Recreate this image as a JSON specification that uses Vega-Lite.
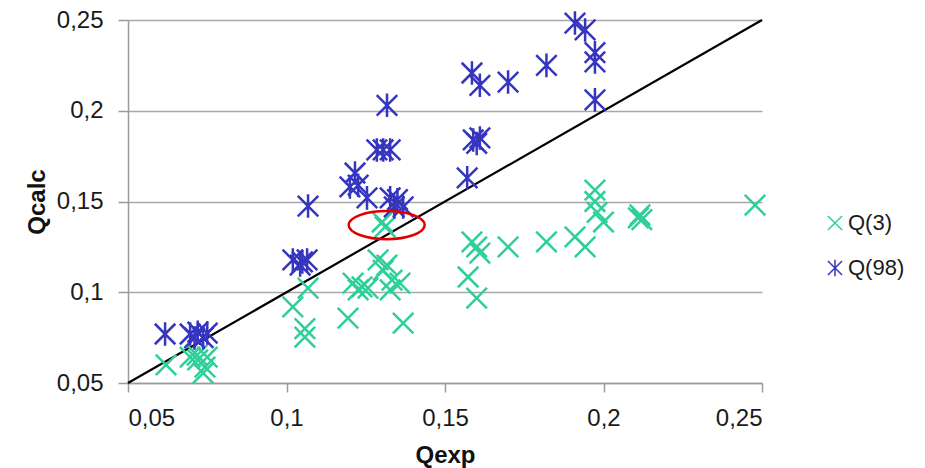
{
  "$schema": "https://vega.github.io/schema/vega-lite/v6.json",
  "width": 634,
  "height": 363,
  "autosize": {"type": "none"},
  "padding": {"left": 128, "top": 20, "right": 163, "bottom": 85},
  "background": "white",
  "config": {
    "view": {"stroke": null},
    "font": "Liberation Sans",
    "axis": {
      "labelFont": "Liberation Sans",
      "labelFontSize": 24,
      "labelColor": "#1a1a1a",
      "titleFont": "Liberation Sans",
      "titleFontSize": 24,
      "titleFontWeight": "bold",
      "titleColor": "#111111",
      "domainColor": "#9a9a9a",
      "tickColor": "#9a9a9a",
      "gridColor": "#a8a8a8",
      "domainWidth": 1.5,
      "tickWidth": 1.5,
      "gridWidth": 1.5
    }
  },
  "datasets": {
    "pts": [
      {"Qexp": 0.062, "Qcalc": 0.060, "series": "Q(3)"},
      {"Qexp": 0.0696, "Qcalc": 0.0643, "series": "Q(3)"},
      {"Qexp": 0.072, "Qcalc": 0.0627, "series": "Q(3)"},
      {"Qexp": 0.0718, "Qcalc": 0.0654, "series": "Q(3)"},
      {"Qexp": 0.0743, "Qcalc": 0.0588, "series": "Q(3)"},
      {"Qexp": 0.075, "Qcalc": 0.0643, "series": "Q(3)"},
      {"Qexp": 0.0737, "Qcalc": 0.0555, "series": "Q(3)"},
      {"Qexp": 0.1068, "Qcalc": 0.1023, "series": "Q(3)"},
      {"Qexp": 0.102, "Qcalc": 0.0919, "series": "Q(3)"},
      {"Qexp": 0.1058, "Qcalc": 0.080, "series": "Q(3)"},
      {"Qexp": 0.1058, "Qcalc": 0.0753, "series": "Q(3)"},
      {"Qexp": 0.1194, "Qcalc": 0.0858, "series": "Q(3)"},
      {"Qexp": 0.121, "Qcalc": 0.105, "series": "Q(3)"},
      {"Qexp": 0.1238, "Qcalc": 0.103, "series": "Q(3)"},
      {"Qexp": 0.1257, "Qcalc": 0.1023, "series": "Q(3)"},
      {"Qexp": 0.1226, "Qcalc": 0.1013, "series": "Q(3)"},
      {"Qexp": 0.1289, "Qcalc": 0.1178, "series": "Q(3)"},
      {"Qexp": 0.1317, "Qcalc": 0.115, "series": "Q(3)"},
      {"Qexp": 0.1305, "Qcalc": 0.112, "series": "Q(3)"},
      {"Qexp": 0.1333, "Qcalc": 0.1067, "series": "Q(3)"},
      {"Qexp": 0.1358, "Qcalc": 0.105, "series": "Q(3)"},
      {"Qexp": 0.1327, "Qcalc": 0.1013, "series": "Q(3)"},
      {"Qexp": 0.1368, "Qcalc": 0.083, "series": "Q(3)"},
      {"Qexp": 0.1302, "Qcalc": 0.1387, "series": "Q(3)"},
      {"Qexp": 0.1311, "Qcalc": 0.136, "series": "Q(3)"},
      {"Qexp": 0.1573, "Qcalc": 0.1084, "series": "Q(3)"},
      {"Qexp": 0.160, "Qcalc": 0.0968, "series": "Q(3)"},
      {"Qexp": 0.1585, "Qcalc": 0.1277, "series": "Q(3)"},
      {"Qexp": 0.160, "Qcalc": 0.125, "series": "Q(3)"},
      {"Qexp": 0.161, "Qcalc": 0.1216, "series": "Q(3)"},
      {"Qexp": 0.1699, "Qcalc": 0.125, "series": "Q(3)"},
      {"Qexp": 0.182, "Qcalc": 0.1277, "series": "Q(3)"},
      {"Qexp": 0.191, "Qcalc": 0.1305, "series": "Q(3)"},
      {"Qexp": 0.1942, "Qcalc": 0.125, "series": "Q(3)"},
      {"Qexp": 0.1973, "Qcalc": 0.1563, "series": "Q(3)"},
      {"Qexp": 0.1973, "Qcalc": 0.150, "series": "Q(3)"},
      {"Qexp": 0.198, "Qcalc": 0.144, "series": "Q(3)"},
      {"Qexp": 0.200, "Qcalc": 0.1387, "series": "Q(3)"},
      {"Qexp": 0.2115, "Qcalc": 0.1426, "series": "Q(3)"},
      {"Qexp": 0.2121, "Qcalc": 0.140, "series": "Q(3)"},
      {"Qexp": 0.211, "Qcalc": 0.141, "series": "Q(3)"},
      {"Qexp": 0.2478, "Qcalc": 0.148, "series": "Q(3)"},
      {"Qexp": 0.0617, "Qcalc": 0.077, "series": "Q(98)"},
      {"Qexp": 0.0696, "Qcalc": 0.077, "series": "Q(98)"},
      {"Qexp": 0.072, "Qcalc": 0.078, "series": "Q(98)"},
      {"Qexp": 0.0737, "Qcalc": 0.075, "series": "Q(98)"},
      {"Qexp": 0.075, "Qcalc": 0.0775, "series": "Q(98)"},
      {"Qexp": 0.071, "Qcalc": 0.0748, "series": "Q(98)"},
      {"Qexp": 0.1068, "Qcalc": 0.1475, "series": "Q(98)"},
      {"Qexp": 0.102, "Qcalc": 0.1178, "series": "Q(98)"},
      {"Qexp": 0.105, "Qcalc": 0.1167, "series": "Q(98)"},
      {"Qexp": 0.1065, "Qcalc": 0.1178, "series": "Q(98)"},
      {"Qexp": 0.1043, "Qcalc": 0.115, "series": "Q(98)"},
      {"Qexp": 0.120, "Qcalc": 0.158, "series": "Q(98)"},
      {"Qexp": 0.1226, "Qcalc": 0.159, "series": "Q(98)"},
      {"Qexp": 0.1216, "Qcalc": 0.1657, "series": "Q(98)"},
      {"Qexp": 0.1254, "Qcalc": 0.152, "series": "Q(98)"},
      {"Qexp": 0.1327, "Qcalc": 0.152, "series": "Q(98)"},
      {"Qexp": 0.135, "Qcalc": 0.151, "series": "Q(98)"},
      {"Qexp": 0.1368, "Qcalc": 0.147, "series": "Q(98)"},
      {"Qexp": 0.134, "Qcalc": 0.147, "series": "Q(98)"},
      {"Qexp": 0.1317, "Qcalc": 0.203, "series": "Q(98)"},
      {"Qexp": 0.1285, "Qcalc": 0.1784, "series": "Q(98)"},
      {"Qexp": 0.1305, "Qcalc": 0.1784, "series": "Q(98)"},
      {"Qexp": 0.1327, "Qcalc": 0.1784, "series": "Q(98)"},
      {"Qexp": 0.191, "Qcalc": 0.2483, "series": "Q(98)"},
      {"Qexp": 0.1942, "Qcalc": 0.2445, "series": "Q(98)"},
      {"Qexp": 0.1973, "Qcalc": 0.232, "series": "Q(98)"},
      {"Qexp": 0.1973, "Qcalc": 0.2269, "series": "Q(98)"},
      {"Qexp": 0.1973, "Qcalc": 0.206, "series": "Q(98)"},
      {"Qexp": 0.182, "Qcalc": 0.225, "series": "Q(98)"},
      {"Qexp": 0.1699, "Qcalc": 0.2158, "series": "Q(98)"},
      {"Qexp": 0.1585, "Qcalc": 0.2208, "series": "Q(98)"},
      {"Qexp": 0.161, "Qcalc": 0.214, "series": "Q(98)"},
      {"Qexp": 0.1589, "Qcalc": 0.1839, "series": "Q(98)"},
      {"Qexp": 0.160, "Qcalc": 0.182, "series": "Q(98)"},
      {"Qexp": 0.161, "Qcalc": 0.185, "series": "Q(98)"},
      {"Qexp": 0.157, "Qcalc": 0.163, "series": "Q(98)"}
    ],
    "diag": [
      {"Qexp": 0.05, "Qcalc": 0.05},
      {"Qexp": 0.25, "Qcalc": 0.25}
    ],
    "mark": [
      {"Qexp": 0.1316, "Qcalc": 0.137}
    ]
  },
  "layer": [
    {
      "data": {"name": "diag"},
      "mark": {"type": "line", "color": "#000000", "strokeWidth": 2.2},
      "encoding": {
        "x": {
          "field": "Qexp", "type": "quantitative",
          "scale": {"domain": [0.05, 0.25], "nice": false, "zero": false},
          "axis": {
            "title": "Qexp", "values": [0.05, 0.1, 0.15, 0.2, 0.25],
            "labelExpr": "replace(format(datum.value, '.2~f'), '.', ',')",
            "grid": false, "tickSize": 9, "labelPadding": 14, "titlePadding": 13
          }
        },
        "y": {
          "field": "Qcalc", "type": "quantitative",
          "scale": {"domain": [0.05, 0.25], "nice": false, "zero": false},
          "axis": {
            "title": "Qcalc", "values": [0.05, 0.1, 0.15, 0.2, 0.25],
            "labelExpr": "replace(format(datum.value, '.2~f'), '.', ',')",
            "grid": true, "tickSize": 10, "labelPadding": 15, "titlePadding": 7
          }
        }
      }
    },
    {
      "data": {"name": "pts"},
      "mark": {"type": "point", "filled": false, "size": 420, "strokeWidth": 2.5, "opacity": 1},
      "encoding": {
        "x": {"field": "Qexp", "type": "quantitative"},
        "y": {"field": "Qcalc", "type": "quantitative"},
        "color": {
          "field": "series", "type": "nominal",
          "scale": {"domain": ["Q(3)", "Q(98)"], "range": ["#2fcf9a", "#3535c0"]},
          "legend": {
            "title": null, "orient": "none", "legendX": 696, "legendY": 192,
            "labelFontSize": 22, "labelFont": "Liberation Sans", "labelColor": "#1a1a1a",
            "symbolSize": 200, "symbolStrokeWidth": 1.5, "rowPadding": 22, "labelOffset": 2
          }
        },
        "shape": {
          "field": "series", "type": "nominal",
          "scale": {"domain": ["Q(3)", "Q(98)"], "range": ["M-1,-1L1,1M-1,1L1,-1", "M-1,-1L1,1M-1,1L1,-1M0,-1.15L0,1.15"]},
          "legend": null
        }
      }
    },
    {
      "data": {"name": "mark"},
      "mark": {"type": "point", "filled": false, "shape": "M-1,0A1,0.37,0,1,0,1,0A1,0.37,0,1,0,-1,0", "size": 5776, "stroke": "#e00000", "strokeWidth": 2.5, "opacity": 1},
      "encoding": {
        "x": {"field": "Qexp", "type": "quantitative"},
        "y": {"field": "Qcalc", "type": "quantitative"}
      }
    }
  ]
}
